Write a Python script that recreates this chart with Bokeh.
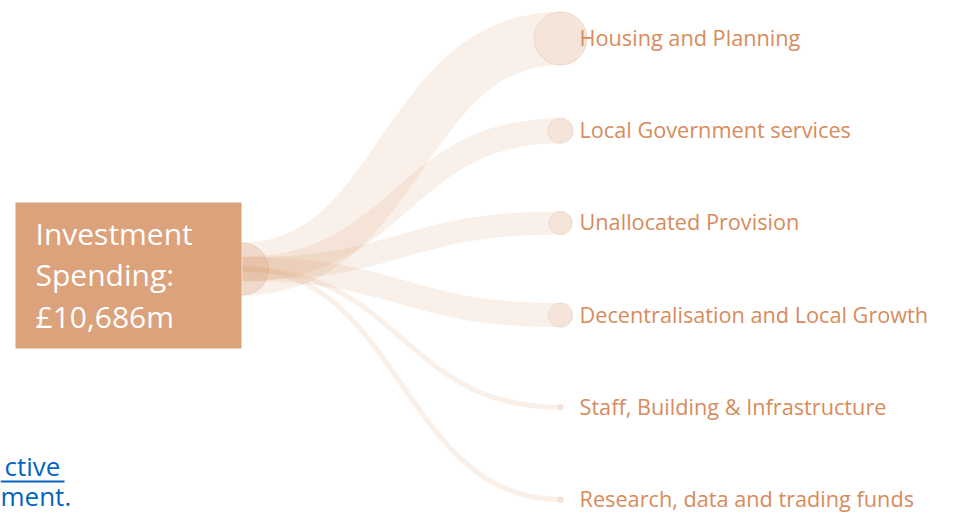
from bokeh.plotting import figure
from bokeh.models import Range1d, ColumnDataSource
from bokeh.core.properties import value
from bokeh.embed import file_html
from bokeh.resources import INLINE

# ---- data ----
root_label = ["Investment", "Spending:", "£10,686m"]
root_total = 10686
categories = [
    "Housing and Planning",
    "Local Government services",
    "Unallocated Provision",
    "Decentralisation and Local Growth",
    "Staff, Building & Infrastructure",
    "Research, data and trading funds",
]
values = [4180, 1980, 1820, 1900, 400, 406]   # £m, estimated from band widths
link_lines = ["ctive", "ment."]

# ---- layout (screen-pixel coordinate system) ----
W, H = 953, 513
root_x, leaf_x = 242, 560
leaf_top, leaf_step = 38, 92.2
px_per_m = 1 / 79.0

n = len(categories)
leaf_y = [leaf_top + i * leaf_step for i in range(n)]
root_y = (leaf_y[0] + leaf_y[-1]) / 2
mid_x = (root_x + leaf_x) / 2
widths = [v * px_per_m for v in values]

band = "#dba47d"
node_fill = "#f4e4da"
node_line = "#efd8ca"
label_col = "#d88b5c"


def base_shift(size):
    # compensates where the svg backend puts the alphabetic baseline
    return -round(0.41 * size)


p = figure(width=W, height=H, x_range=Range1d(0, W), y_range=Range1d(H, 0),
           output_backend="svg", toolbar_location=None, min_border=0,
           x_axis_type=None, y_axis_type=None)
p.grid.visible = False
p.outline_line_color = None
p.background_fill_color = "white"
p.border_fill_color = "white"

# root node (under the links)
root_w = root_total * px_per_m
p.scatter(x=[root_x], y=[root_y], size=[min(root_w, 52)], marker="circle",
          fill_color=node_fill, line_color=node_line, line_width=1)

links = ColumnDataSource(dict(
    x0=[root_x] * n, y0=[root_y] * n, x1=[leaf_x] * n, y1=leaf_y,
    cx0=[mid_x] * n, cy0=[root_y] * n, cx1=[mid_x] * n, cy1=leaf_y, w=widths))
p.bezier(x0="x0", y0="y0", x1="x1", y1="y1", cx0="cx0", cy0="cy0", cx1="cx1", cy1="cy1",
         source=links, line_width="w", line_color=band, line_alpha=0.17, line_cap="butt")

# leaf nodes
p.scatter(x=[leaf_x] * n, y=leaf_y, size=[max(w, 5) for w in widths], marker="circle",
          fill_color=node_fill, line_color=node_line, line_width=1)

# leaf labels
p.text(x=[leaf_x + 19] * n, y=leaf_y, text=categories, text_font=value("Open Sans"),
       text_font_size="21.7px", text_color=label_col, text_baseline="alphabetic",
       text_align="left", y_offset=8 + base_shift(21.7))

# root box
p.quad(left=[15], right=[241], top=[202], bottom=[348], fill_color="#dca27b", line_color=None)
p.text(x=[35] * 3, y=[245, 286, 328], text=root_label, text_font=value("Open Sans"),
       text_font_size="30px", text_color="white", text_baseline="alphabetic", text_align="left",
       y_offset=base_shift(30))

# cut-off hyperlink text
p.text(x=[4, 0], y=[476, 506], text=link_lines, text_font=value("Open Sans"),
       text_font_size="26px", text_color="#0563c1", text_baseline="alphabetic", text_align="left",
       y_offset=base_shift(26))
p.segment(x0=[0], y0=[481], x1=[64], y1=[481], line_color="#0563c1", line_width=2)

open("out.html", "w").write(file_html(p, INLINE))
